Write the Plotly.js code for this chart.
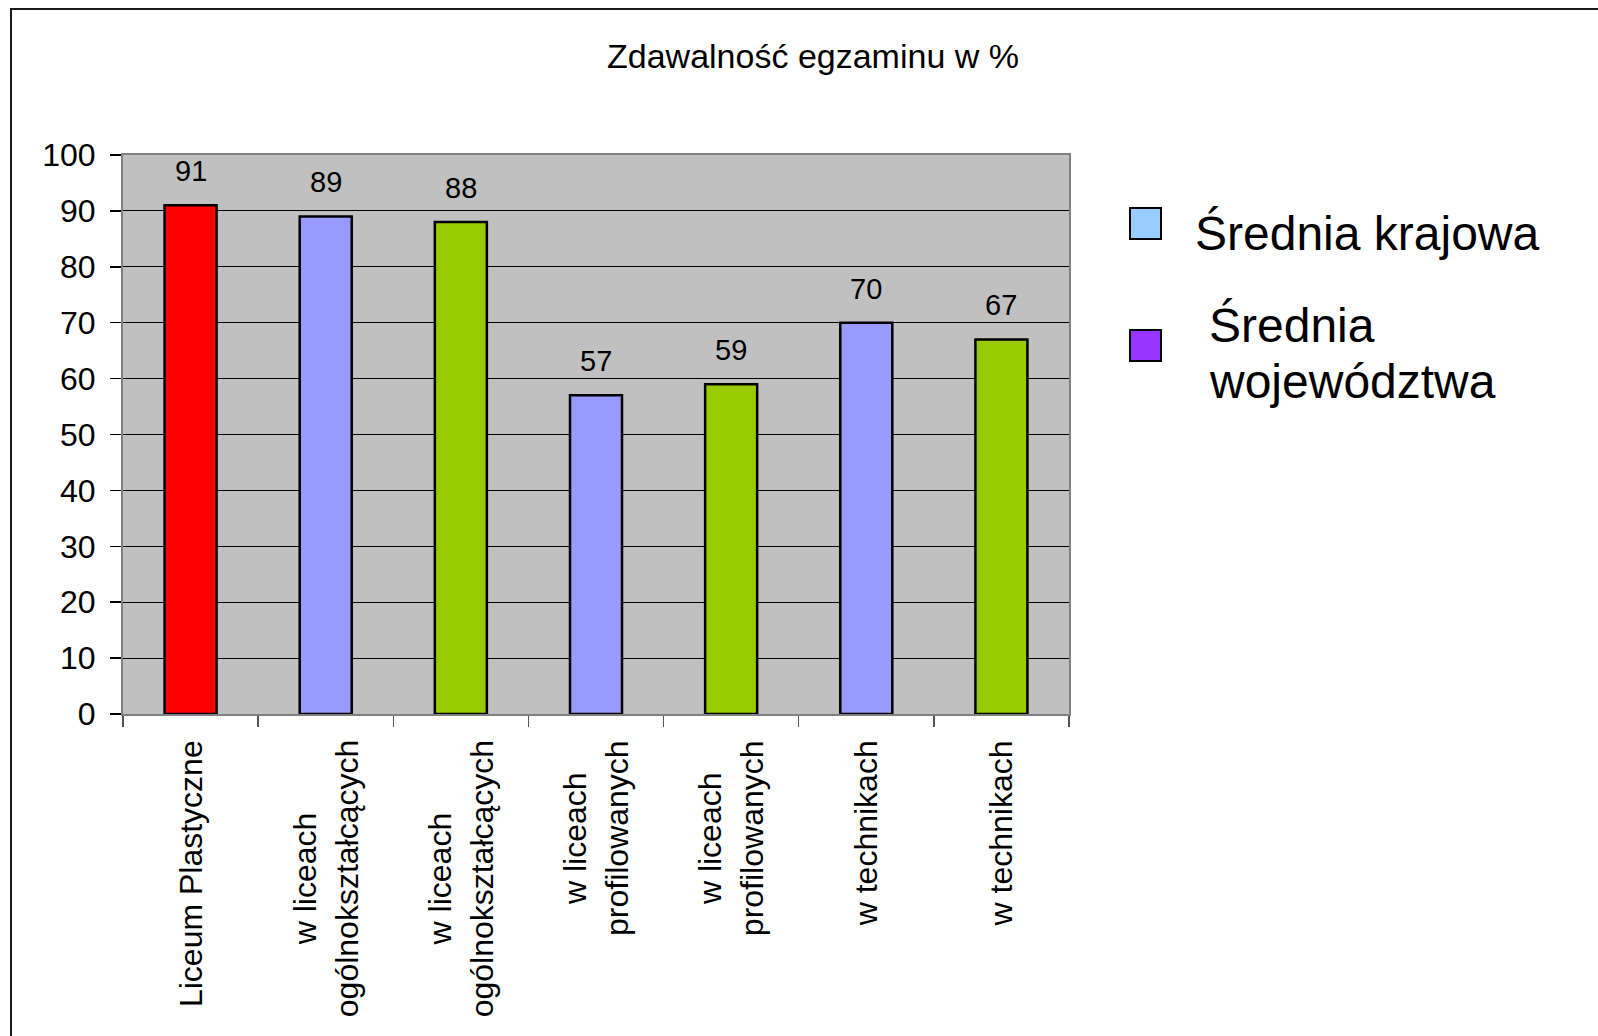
<!DOCTYPE html>
<html>
<head>
<meta charset="utf-8">
<script src="https://cdn.plot.ly/plotly-3.0.1.min.js"></script>
<style>
  html, body { margin: 0; padding: 0; overflow: hidden; background: #fff; }
  #chart { width: 1598px; height: 1036px; position: absolute; left: 0; top: 0; }
  #frame { position: absolute; left: 10px; top: 8px; width: 2000px; height: 2000px;
           border-left: 2px solid #1a1a1a; border-top: 2px solid #1a1a1a; pointer-events: none; }
</style>
</head>
<body>
<div id="chart"></div>
<div id="frame"></div>
<script>
// ---- data ----
const chartTitle = "Zdawalność egzaminu w %";
const categories = [
  "Liceum Plastyczne",
  "w liceach<br>ogólnokształcących",
  "w liceach<br>ogólnokształcących",
  "w liceach<br>profilowanych",
  "w liceach<br>profilowanych",
  "w technikach",
  "w technikach"
];
const values = [91, 89, 88, 57, 59, 70, 67];
const barColors = ["#FF0000", "#9999FF", "#99CC00", "#9999FF", "#99CC00", "#9999FF", "#99CC00"];
const yTickValues = [0, 10, 20, 30, 40, 50, 60, 70, 80, 90, 100];
const legendLabelLines = [["Średnia krajowa"], ["Średnia", "województwa"]];
const legendColors = ["#99CCFF", "#9933FF"];

// ---- layout geometry ----
const W = 1598, H = 1036;
const M = { l: 123, r: W - 1069, t: 155, b: H - 714 };
const PW = W - M.l - M.r, PH = H - M.t - M.b;
const px2x = px => (px - M.l) / PW;
const py2y = py => (H - M.b - py) / PH;

const FONT = "Liberation Sans, Arial, sans-serif";
const xIdx = categories.map((_, i) => i);

const bars = {
  type: "bar",
  x: xIdx,
  y: values,
  marker: { color: barColors, line: { color: "#000", width: 2.5 } },
  width: 0.385,
  showlegend: false,
  hoverinfo: "x+y"
};

// value labels above bars
const annotations = values.map((v, i) => ({
  x: i, y: v, xref: "x", yref: "y",
  text: String(v), showarrow: false,
  yanchor: "bottom", yshift: 16,
  font: { family: FONT, size: 29, color: "#000" }
}));

// category labels (rotated, lines centred) under the axis
categories.forEach((c, i) => {
  annotations.push({
    x: i, xref: "x", y: 0, yref: "paper",
    text: c, showarrow: false, textangle: -90,
    align: "center", xanchor: "center", yanchor: "top", yshift: -24,
    font: { family: FONT, size: 32, color: "#000" }
  });
});

// manual legend (large squares and text)
const legendSquareTop = [208, 330];
const legendTextLayout = [
  [{ x: 1193, y: 233 }],
  [{ x: 1207, y: 325 }, { x: 1207, y: 381 }]
];
const shapes = [];
legendColors.forEach((c, k) => {
  shapes.push({
    type: "rect", xref: "paper", yref: "paper",
    x0: px2x(1130), x1: px2x(1161),
    y0: py2y(legendSquareTop[k]), y1: py2y(legendSquareTop[k] + 31),
    fillcolor: c, line: { color: "#000", width: 2 }
  });
  legendLabelLines[k].forEach((line, j) => {
    const pos = legendTextLayout[k][j];
    annotations.push({
      xref: "paper", yref: "paper",
      x: px2x(pos.x), y: py2y(pos.y),
      xanchor: "left", yanchor: "middle",
      text: line, showarrow: false,
      font: { family: FONT, size: 48, color: "#000" }
    });
  });
});

const layout = {
  width: W, height: H,
  margin: M,
  paper_bgcolor: "#FFFFFF",
  plot_bgcolor: "#C0C0C0",
  font: { family: FONT, color: "#000" },
  title: {
    text: chartTitle,
    x: 813 / W, xanchor: "center", xref: "container",
    y: 1 - 56 / H, yanchor: "middle", yref: "container",
    font: { family: FONT, size: 34, color: "#000" }
  },
  xaxis: {
    range: [-0.5, categories.length - 0.5],
    tickmode: "array",
    tickvals: xIdx,
    showticklabels: false,
    ticks: "",
    minor: { ticks: "outside", tick0: 0.5, dtick: 1, ticklen: 11, tickcolor: "#555", tickwidth: 1.5, showgrid: false },
    showline: true, linecolor: "#808080", linewidth: 2, mirror: true,
    showgrid: false, zeroline: false, fixedrange: true
  },
  yaxis: {
    range: [0, 100],
    tickmode: "array",
    tickvals: yTickValues,
    ticks: "outside", ticklen: 11, tickcolor: "#000", tickwidth: 1.5,
    ticklabelstandoff: 8,
    tickfont: { family: FONT, size: 32, color: "#000" },
    showgrid: true, gridcolor: "#000", gridwidth: 1,
    showline: true, linecolor: "#808080", linewidth: 2, mirror: true,
    zeroline: false, fixedrange: true
  },
  bargap: 0.615,
  annotations: annotations,
  shapes: shapes,
  showlegend: false
};

Plotly.newPlot("chart", [bars], layout, { displayModeBar: false, staticPlot: true });
</script>
</body>
</html>
